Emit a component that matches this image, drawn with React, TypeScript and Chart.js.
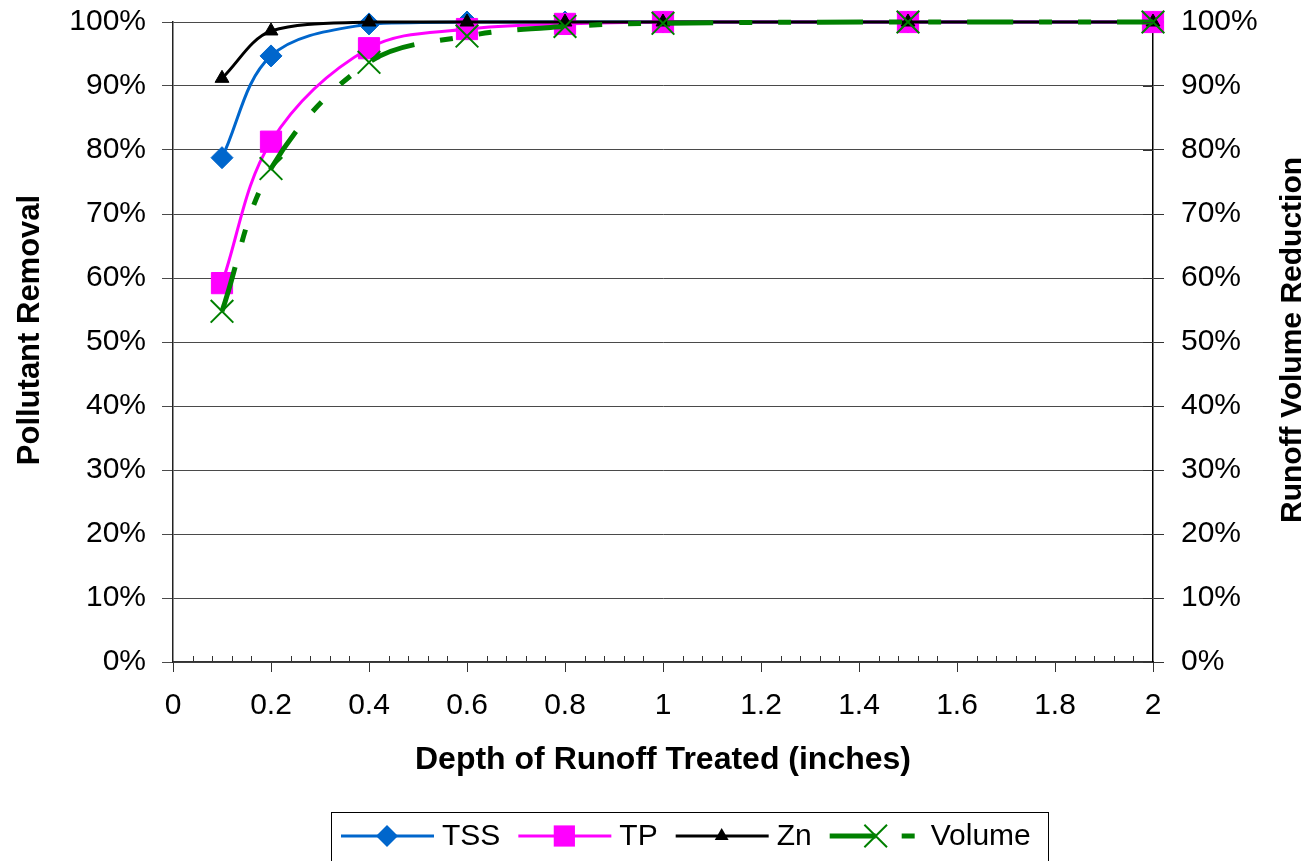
import React, { useEffect, useRef } from 'react';
import { Chart, registerables } from 'chart.js';

Chart.register(...registerables);

// ---- data ----
const depthInches = [0.1, 0.2, 0.4, 0.6, 0.8, 1.0, 1.5, 2.0];
const tssRemoval = [0.788, 0.947, 0.997, 1.0, 1.0, 1.0, 1.0, 1.0];
const tpRemoval = [0.592, 0.813, 0.959, 0.989, 0.997, 1.0, 1.0, 1.0];
const znRemoval = [0.912, 0.986, 1.0, 1.0, 1.0, 1.0, 1.0, 1.0];
const volumeReduction = [0.548, 0.771, 0.937, 0.978, 0.993, 0.998, 1.0, 1.0];
const seriesLabels = ['TSS', 'TP', 'Zn', 'Volume'];
const xAxisMin = 0;
const xAxisMax = 2;
const xMajorStep = 0.2;
const xMinorStep = 0.04;
const yTickStep = 0.1;

const FONT = '"Liberation Sans", Arial, sans-serif';

const toPts = (vals: number[]) => depthInches.map((x, i) => ({ x, y: vals[i] }));

function drawMarker(ctx: CanvasRenderingContext2D, style: string, x: number, y: number, r: number, color: string) {
  ctx.save();
  ctx.fillStyle = color;
  ctx.strokeStyle = color;
  ctx.lineWidth = 1;
  ctx.setLineDash([]);
  ctx.beginPath();
  if (style === 'rectRot') {
    ctx.moveTo(x, y - r);
    ctx.lineTo(x + r, y);
    ctx.lineTo(x, y + r);
    ctx.lineTo(x - r, y);
    ctx.closePath();
    ctx.fill();
  } else if (style === 'rect') {
    const s = r * Math.SQRT1_2;
    ctx.rect(x - s, y - s, 2 * s, 2 * s);
    ctx.fill();
  } else if (style === 'triangle') {
    ctx.moveTo(x, y - r);
    ctx.lineTo(x + Math.sin(Math.PI * 2 / 3) * r, y + r / 2);
    ctx.lineTo(x - Math.sin(Math.PI * 2 / 3) * r, y + r / 2);
    ctx.closePath();
    ctx.fill();
  } else if (style === 'crossRot') {
    const o = r * Math.SQRT1_2;
    ctx.lineWidth = 2;
    ctx.moveTo(x - o, y - o);
    ctx.lineTo(x + o, y + o);
    ctx.moveTo(x - o, y + o);
    ctx.lineTo(x + o, y - o);
    ctx.stroke();
  }
  ctx.restore();
}

const extrasPlugin = {
  id: 'extras',
  afterDraw(chart: any) {
    const ctx: CanvasRenderingContext2D = chart.ctx;
    const xs = chart.scales.x;
    const y2 = chart.scales.y2;
    const { bottom, right } = chart.chartArea;
    ctx.save();
    // x minor ticks (inside)
    ctx.strokeStyle = '#333';
    ctx.lineWidth = 1;
    ctx.beginPath();
    const n = Math.round((xAxisMax - xAxisMin) / xMinorStep);
    const per = Math.round(xMajorStep / xMinorStep);
    for (let i = 1; i < n; i++) {
      if (i % per === 0) continue;
      const px = Math.round(xs.getPixelForValue(xAxisMin + i * xMinorStep)) + 0.5;
      ctx.moveTo(px, bottom - 6);
      ctx.lineTo(px, bottom);
    }
    // right axis inner ticks
    y2.ticks.forEach((t: any) => {
      const py = Math.round(y2.getPixelForValue(t.value)) + 0.5;
      ctx.moveTo(right - 10, py);
      ctx.lineTo(right, py);
    });
    ctx.stroke();
    ctx.restore();

    // axis titles (both read bottom to top)
    ctx.save();
    ctx.fillStyle = '#000';
    ctx.textAlign = 'center';
    ctx.textBaseline = 'middle';
    ctx.translate(30, 330);
    ctx.rotate(-Math.PI / 2);
    ctx.font = `bold 31px ${FONT}`;
    ctx.fillText('Pollutant Removal', 0, 0);
    ctx.restore();

    ctx.save();
    ctx.fillStyle = '#000';
    ctx.textAlign = 'center';
    ctx.textBaseline = 'middle';
    ctx.translate(1293, 340);
    ctx.rotate(-Math.PI / 2);
    ctx.font = `bold 30px ${FONT}`;
    ctx.fillText('Runoff Volume Reduction', 0, 0);
    ctx.restore();

    // legend
    ctx.save();
    ctx.strokeStyle = '#000';
    ctx.lineWidth = 1;
    ctx.strokeRect(331.5, 812.5, 717, 60);
    ctx.font = `30px ${FONT}`;
    const ly = 836;
    let cx = 341;
    const legendR = [11, 15, 8, 16];
    chart.data.datasets.forEach((ds: any, i: number) => {
      ctx.save();
      ctx.strokeStyle = ds.borderColor;
      ctx.lineWidth = ds.borderWidth;
      ctx.setLineDash(ds.borderDash || []);
      ctx.beginPath();
      ctx.moveTo(cx, ly);
      ctx.lineTo(cx + 93, ly);
      ctx.stroke();
      ctx.restore();
      drawMarker(ctx, ds.pointStyle, cx + 46, ly, legendR[i], ds.pointBorderColor);
      ctx.fillStyle = '#000';
      ctx.textAlign = 'left';
      ctx.textBaseline = 'middle';
      ctx.fillText(ds.label, cx + 101, ly + 1);
      cx += 101 + ctx.measureText(ds.label).width + 18;
    });
    ctx.restore();
  },
};

const zeroPad = (s: any) => {
  s.paddingTop = 0;
  s.paddingBottom = 0;
  s.paddingLeft = 0;
  s.paddingRight = 0;
};

export default function App() {
  const ref = useRef<HTMLCanvasElement>(null);
  useEffect(() => {
    if (!ref.current) return;
    const tickFont = { family: FONT, size: 30 };
    const common = { tension: 0.35, pointBorderWidth: 1, clip: false as any };
    const chart = new Chart(ref.current, {
      type: 'line',
      data: {
        datasets: [
          {
            ...common,
            label: seriesLabels[0],
            data: toPts(tssRemoval),
            borderColor: '#0066CC',
            backgroundColor: '#0066CC',
            pointBackgroundColor: '#0066CC',
            pointBorderColor: '#0066CC',
            borderWidth: 3,
            pointStyle: 'rectRot',
            pointRadius: 11,
            yAxisID: 'y',
            order: 4,
          },
          {
            ...common,
            label: seriesLabels[1],
            data: toPts(tpRemoval),
            borderColor: '#FF00FF',
            backgroundColor: '#FF00FF',
            pointBackgroundColor: '#FF00FF',
            pointBorderColor: '#FF00FF',
            borderWidth: 3,
            pointStyle: 'rect',
            pointRadius: 15,
            yAxisID: 'y',
            order: 3,
          },
          {
            ...common,
            label: seriesLabels[2],
            data: toPts(znRemoval),
            borderColor: '#000000',
            backgroundColor: '#000000',
            pointBackgroundColor: '#000000',
            pointBorderColor: '#000000',
            borderWidth: 3,
            pointStyle: 'triangle',
            pointRadius: 8,
            yAxisID: 'y',
            order: 2,
          },
          {
            ...common,
            label: seriesLabels[3],
            data: toPts(volumeReduction),
            borderColor: '#008000',
            backgroundColor: '#008000',
            pointBackgroundColor: '#008000',
            pointBorderColor: '#008000',
            borderWidth: 5,
            borderDash: [46, 26, 13, 26, 13, 26],
            pointStyle: 'crossRot',
            pointRadius: 16,
            pointBorderWidth: 2,
            yAxisID: 'y2',
            order: 1,
          },
        ],
      },
      options: {
        animation: false,
        responsive: true,
        maintainAspectRatio: false,
        layout: { padding: { top: 22, left: 0, right: 0, bottom: 0 } },
        plugins: { legend: { display: false }, tooltip: { enabled: false } },
        scales: {
          x: {
            type: 'linear',
            min: xAxisMin,
            max: xAxisMax,
            afterFit: (s: any) => { s.height = 199; zeroPad(s); },
            ticks: {
              stepSize: xMajorStep,
              font: tickFont,
              color: '#000',
              padding: 16,
              maxRotation: 0,
              callback: (v: any) => String(Number(Number(v).toFixed(2))),
            },
            grid: { drawOnChartArea: false, tickLength: 10, color: '#333', lineWidth: 1 },
            border: { color: '#333', width: 1.5 },
            title: {
              display: true,
              text: 'Depth of Runoff Treated (inches)',
              font: { family: FONT, size: 32, weight: 'bold' },
              color: '#000',
              padding: { top: 0, bottom: 82 },
            },
          },
          y: {
            type: 'linear',
            position: 'left',
            min: 0,
            max: 1,
            afterFit: (s: any) => { s.width = 173; zeroPad(s); },
            ticks: {
              stepSize: yTickStep,
              font: tickFont,
              color: '#000',
              padding: 16,
              callback: (v: any) => Math.round(Number(v) * 100) + '%',
            },
            grid: { color: '#4a4a4a', lineWidth: 1, tickLength: 11 },
            border: { color: '#222', width: 1.5 },
          },
          y2: {
            type: 'linear',
            position: 'right',
            min: 0,
            max: 1,
            afterFit: (s: any) => { s.width = 157; zeroPad(s); },
            ticks: {
              stepSize: yTickStep,
              font: tickFont,
              color: '#000',
              padding: 17,
              callback: (v: any) => Math.round(Number(v) * 100) + '%',
            },
            grid: { drawOnChartArea: false, color: '#333', lineWidth: 1, tickLength: 11 },
            border: { color: '#000', width: 1.5 },
          },
        },
      },
      plugins: [extrasPlugin],
    } as any);
    return () => chart.destroy();
  }, []);
  return (
    <div style={{ position: 'absolute', left: 0, top: 0, width: 1310, height: 861, background: '#fff' }}>
      <canvas ref={ref} />
    </div>
  );
}
